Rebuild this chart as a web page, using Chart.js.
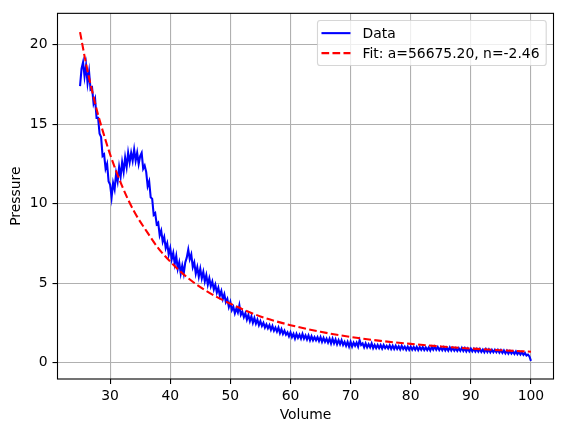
<!DOCTYPE html>
<html>
<head>
<meta charset="utf-8">
<script src="https://cdn.jsdelivr.net/npm/chart.js@4.4.1/dist/chart.umd.min.js"></script>
<style>
    html, body { margin: 0; padding: 0; background: #fff; }
</style>
</head>
<body>
<canvas id="chart" width="563" height="432"></canvas>
<script>
// measured curve, 25..100 every 0.25 (one row per unit of volume)
const volume = [
    25.00, 25.25, 25.50, 25.75, 26.00, 26.25, 26.50, 26.75,
    27.00, 27.25, 27.50, 27.75, 28.00, 28.25, 28.50, 28.75,
    29.00, 29.25, 29.50, 29.75, 30.00, 30.25, 30.50, 30.75,
    31.00, 31.25, 31.50, 31.75, 32.00, 32.25, 32.50, 32.75,
    33.00, 33.25, 33.50, 33.75, 34.00, 34.25, 34.50, 34.75,
    35.00, 35.25, 35.50, 35.75, 36.00, 36.25, 36.50, 36.75,
    37.00, 37.25, 37.50, 37.75, 38.00, 38.25, 38.50, 38.75,
    39.00, 39.25, 39.50, 39.75, 40.00, 40.25, 40.50, 40.75,
    41.00, 41.25, 41.50, 41.75, 42.00, 42.25, 42.50, 42.75,
    43.00, 43.25, 43.50, 43.75, 44.00, 44.25, 44.50, 44.75,
    45.00, 45.25, 45.50, 45.75, 46.00, 46.25, 46.50, 46.75,
    47.00, 47.25, 47.50, 47.75, 48.00, 48.25, 48.50, 48.75,
    49.00, 49.25, 49.50, 49.75, 50.00, 50.25, 50.50, 50.75,
    51.00, 51.25, 51.50, 51.75, 52.00, 52.25, 52.50, 52.75,
    53.00, 53.25, 53.50, 53.75, 54.00, 54.25, 54.50, 54.75,
    55.00, 55.25, 55.50, 55.75, 56.00, 56.25, 56.50, 56.75,
    57.00, 57.25, 57.50, 57.75, 58.00, 58.25, 58.50, 58.75,
    59.00, 59.25, 59.50, 59.75, 60.00, 60.25, 60.50, 60.75,
    61.00, 61.25, 61.50, 61.75, 62.00, 62.25, 62.50, 62.75,
    63.00, 63.25, 63.50, 63.75, 64.00, 64.25, 64.50, 64.75,
    65.00, 65.25, 65.50, 65.75, 66.00, 66.25, 66.50, 66.75,
    67.00, 67.25, 67.50, 67.75, 68.00, 68.25, 68.50, 68.75,
    69.00, 69.25, 69.50, 69.75, 70.00, 70.25, 70.50, 70.75,
    71.00, 71.25, 71.50, 71.75, 72.00, 72.25, 72.50, 72.75,
    73.00, 73.25, 73.50, 73.75, 74.00, 74.25, 74.50, 74.75,
    75.00, 75.25, 75.50, 75.75, 76.00, 76.25, 76.50, 76.75,
    77.00, 77.25, 77.50, 77.75, 78.00, 78.25, 78.50, 78.75,
    79.00, 79.25, 79.50, 79.75, 80.00, 80.25, 80.50, 80.75,
    81.00, 81.25, 81.50, 81.75, 82.00, 82.25, 82.50, 82.75,
    83.00, 83.25, 83.50, 83.75, 84.00, 84.25, 84.50, 84.75,
    85.00, 85.25, 85.50, 85.75, 86.00, 86.25, 86.50, 86.75,
    87.00, 87.25, 87.50, 87.75, 88.00, 88.25, 88.50, 88.75,
    89.00, 89.25, 89.50, 89.75, 90.00, 90.25, 90.50, 90.75,
    91.00, 91.25, 91.50, 91.75, 92.00, 92.25, 92.50, 92.75,
    93.00, 93.25, 93.50, 93.75, 94.00, 94.25, 94.50, 94.75,
    95.00, 95.25, 95.50, 95.75, 96.00, 96.25, 96.50, 96.75,
    97.00, 97.25, 97.50, 97.75, 98.00, 98.25, 98.50, 98.75,
    99.00, 99.25, 99.50, 99.75, 100.00
];
const pressure = [
    17.4, 18.5, 18.9, 18.0, 18.7, 17.6, 18.3, 17.2,
    17.3, 16.3, 16.6, 15.4, 15.4, 14.4, 14.2, 13.0,
    13.1, 12.2, 12.5, 11.4, 11.2, 10.4, 11.3, 10.9,
    11.9, 11.4, 12.3, 11.7, 12.6, 12.0, 12.9, 12.3,
    13.2, 12.6, 13.2, 12.7, 13.4, 12.7, 13.2, 12.5,
    13.0, 13.2, 12.2, 12.4, 12.0, 11.1, 11.4, 10.4,
    10.3, 9.3, 9.4, 8.7, 8.8, 8.0, 8.3, 7.6,
    7.9, 7.2, 7.5, 6.8, 7.2, 6.5, 6.9, 6.2,
    6.7, 5.9, 6.3, 5.6, 6.1, 5.6, 6.3, 6.6,
    7.1, 6.5, 6.8, 6.0, 6.3, 5.6, 6.0, 5.4,
    5.9, 5.3, 5.7, 5.1, 5.5, 4.9, 5.3, 4.8,
    5.1, 4.6, 4.9, 4.4, 4.7, 4.2, 4.5, 4.0,
    4.3, 3.8, 4.0, 3.5, 3.8, 3.3, 3.5, 3.1,
    3.4, 3.15, 3.6, 3.0, 3.2, 2.85, 3.1, 2.7,
    3.0, 2.6, 2.9, 2.5, 2.8, 2.45, 2.7, 2.35,
    2.6, 2.3, 2.5, 2.2, 2.4, 2.15, 2.35, 2.05,
    2.3, 2.0, 2.2, 1.95, 2.2, 1.85, 2.1, 1.8,
    2.0, 1.75, 1.9, 1.65, 1.9, 1.6, 1.8, 1.5,
    1.8, 1.55, 1.75, 1.5, 1.8, 1.5, 1.7, 1.45,
    1.7, 1.4, 1.65, 1.4, 1.6, 1.4, 1.6, 1.35,
    1.6, 1.3, 1.55, 1.3, 1.5, 1.25, 1.5, 1.2,
    1.5, 1.2, 1.45, 1.15, 1.4, 1.15, 1.4, 1.1,
    1.3, 1.05, 1.3, 1.0, 1.3, 1.0, 1.25, 1.05,
    1.25, 1.0, 1.4, 1.1, 1.2, 0.95, 1.2, 0.95,
    1.15, 0.95, 1.2, 0.9, 1.1, 0.9, 1.1, 0.9,
    1.1, 0.88, 1.1, 0.9, 1.05, 0.88, 1.08, 0.85,
    1.05, 0.85, 1.05, 0.85, 1.02, 0.82, 1.05, 0.85,
    1.0, 0.8, 1.0, 0.8, 1.0, 0.8, 0.98, 0.8,
    0.98, 0.78, 0.97, 0.8, 0.97, 0.78, 0.95, 0.78,
    0.95, 0.76, 0.98, 0.8, 1.0, 0.8, 0.97, 0.78,
    0.95, 0.77, 0.95, 0.76, 0.93, 0.75, 0.95, 0.75,
    0.92, 0.74, 0.9, 0.73, 0.9, 0.73, 0.92, 0.72,
    0.9, 0.7, 0.88, 0.7, 0.87, 0.7, 0.86, 0.68,
    0.85, 0.68, 0.85, 0.67, 0.82, 0.65, 0.84, 0.66,
    0.82, 0.64, 0.8, 0.64, 0.8, 0.64, 0.8, 0.62,
    0.78, 0.6, 0.76, 0.58, 0.74, 0.56, 0.72, 0.56,
    0.7, 0.54, 0.7, 0.52, 0.66, 0.5, 0.65, 0.48,
    0.6, 0.44, 0.5, 0.38, 0.1
];

// fitted curve
const fitVolume = [25, 26, 27, 28, 29, 30, 32, 34, 36, 38, 40, 43, 46, 50, 55, 60, 65, 70, 75, 80, 85, 90, 95, 100];
const fitPressure = [20.8, 18.8, 17.1, 15.6, 14.3, 13.1, 11.1, 9.5, 8.3, 7.2, 6.35, 5.3, 4.5, 3.7, 2.9, 2.35, 1.93, 1.61, 1.36, 1.17, 1.01, 0.88, 0.77, 0.68];

const xTicks = [30, 40, 50, 60, 70, 80, 90, 100];
const yTicks = [0, 5, 10, 15, 20];

const dataLabel = "Data";
const fitLabel = "Fit: a=56675.20, n=-2.46";

const FONT = "'DejaVu Sans', sans-serif";
const FS = 13.9;
const LW = 2.08;

Chart.defaults.font.family = FONT;
Chart.defaults.font.size = FS;
Chart.defaults.color = "#000";

function toPoints(xs, ys) {
    return xs.map((x, i) => ({x: x, y: ys[i]}));
}

// black frame round the plot area, like matplotlib spines
const frame = {
    id: "frame",
    afterDatasetsDraw(chart) {
        const {ctx, chartArea: a} = chart;
        ctx.save();
        ctx.strokeStyle = "#000";
        ctx.lineWidth = 1.1;
        ctx.strokeRect(a.left, a.top, a.right - a.left, a.bottom - a.top);
        ctx.restore();
    }
};

// legend box in the upper right corner
const legendBox = {
    id: "legendBox",
    afterDraw(chart) {
        const {ctx, chartArea: a} = chart;
        const sets = chart.data.datasets.slice().sort((p, q) => p.legendIndex - q.legendIndex);
        ctx.save();
        ctx.font = FS + "px " + FONT;
        const textW = Math.max(...sets.map(s => ctx.measureText(s.label).width));
        const right = a.right - 7.3;
        const textX = right - 6.7 - textW;
        const left = textX - 45;
        const top = a.top + 7.2;
        const bottom = a.top + 52.2;

        ctx.beginPath();
        ctx.roundRect(left, top, right - left, bottom - top, 2.8);
        ctx.fillStyle = "rgba(255,255,255,0.8)";
        ctx.fill();
        ctx.strokeStyle = "rgba(204,204,204,0.8)";
        ctx.lineWidth = 1.1;
        ctx.stroke();

        sets.forEach((s, i) => {
            const y = a.top + 19.8 + i * 20;
            ctx.beginPath();
            ctx.setLineDash(s.borderDash || []);
            ctx.strokeStyle = s.borderColor;
            ctx.lineWidth = s.borderWidth;
            ctx.moveTo(textX - 41, y);
            ctx.lineTo(textX - 12, y);
            ctx.stroke();
            ctx.setLineDash([]);
            ctx.fillStyle = "#000";
            ctx.textBaseline = "middle";
            ctx.fillText(s.label, textX, y + 1);
        });
        ctx.restore();
    }
};

new Chart(document.getElementById("chart").getContext("2d"), {
    type: "scatter",
    data: {
        datasets: [
            {
                label: dataLabel,
                legendIndex: 0,
                data: toPoints(volume, pressure),
                showLine: true,
                borderColor: "#0000ff",
                borderWidth: LW,
                pointRadius: 0,
                tension: 0,
                order: 2
            },
            {
                label: fitLabel,
                legendIndex: 1,
                data: toPoints(fitVolume, fitPressure),
                showLine: true,
                borderColor: "#ff0000",
                borderWidth: LW,
                borderDash: [7.7, 3.3],
                pointRadius: 0,
                cubicInterpolationMode: "monotone",
                order: 1
            }
        ]
    },
    options: {
        responsive: false,
        animation: false,
        layout: {padding: {left: 0, right: 9.5, top: 9.5, bottom: 0}},
        plugins: {
            legend: {display: false},
            tooltip: {enabled: false}
        },
        scales: {
            x: {
                type: "linear",
                min: 21.25,
                max: 103.75,
                afterBuildTicks(scale) { scale.ticks = xTicks.map(v => ({value: v})); },
                afterFit(scale) { scale.height = 53; },
                ticks: {padding: 4, maxRotation: 0, autoSkip: false},
                grid: {color: "#b0b0b0", lineWidth: 1.1, tickColor: "#000", tickLength: 5},
                border: {display: false},
                title: {display: true, text: "Volume", padding: 8}
            },
            y: {
                type: "linear",
                min: -1.04,
                max: 21.98,
                afterBuildTicks(scale) { scale.ticks = yTicks.map(v => ({value: v})); },
                afterFit(scale) { scale.width = 57.5; },
                ticks: {padding: 5, autoSkip: false},
                grid: {color: "#b0b0b0", lineWidth: 1.1, tickColor: "#000", tickLength: 5},
                border: {display: false},
                title: {display: true, text: "Pressure", padding: 8}
            }
        }
    },
    plugins: [frame, legendBox]
});
</script>
</body>
</html>
